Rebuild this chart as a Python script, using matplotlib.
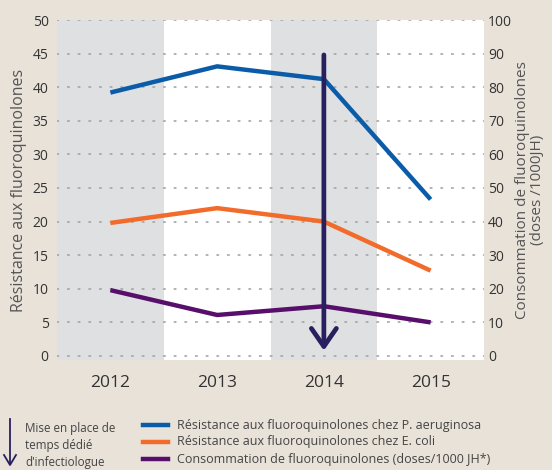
import numpy as np
import matplotlib.pyplot as plt
from matplotlib.lines import Line2D

plt.rcParams['font.family'] = ['Open Sans', 'DejaVu Sans']

years = [2012, 2013, 2014, 2015]
res_paeruginosa = [39.2, 43.1, 41.2, 23.3]
res_ecoli = [19.8, 22.0, 20.0, 12.7]
conso = [19.6, 12.2, 14.8, 10.0]   # doses / 1000 JH (right axis)

lbl_blue = "Résistance aux fluoroquinolones chez P. aeruginosa"
lbl_orange = "Résistance aux fluoroquinolones chez E. coli"
lbl_purple = "Consommation de fluoroquinolones (doses/1000 JH*)"
lbl_arrow = "Mise en place de\ntemps dédié\nd'infectiologue"

bg = '#e8e2d9'
c_blue = '#0b5ca8'
c_orange = '#f26b2b'
c_purple = '#570f6b'
c_arrow = '#28205e'
c_text = '#333333'

fig = plt.figure(figsize=(5.52, 4.70), dpi=100, facecolor=bg)
ax = fig.add_axes([57/552, 1-360/470, 427/552, 340/470])
ax.set_facecolor('white')
ax.set_xlim(2011.5, 2015.5)
ax.set_ylim(-0.6, 50)

for i, y in enumerate(years):
    if i % 2 == 0:
        ax.axvspan(y-0.5, y+0.5, color='#dfe0e2', lw=0, zorder=0)

for v in range(0, 51, 5):
    ax.plot([2011.5, 2015.5], [v, v], color='#a5a5a5', lw=1.2, ls=(0, (0.9, 5.5)),
            dash_capstyle='round', zorder=1)

ax.plot(years, res_paeruginosa, color=c_blue, lw=3.2, zorder=3, solid_capstyle='butt')
ax.plot(years, res_ecoli, color=c_orange, lw=3.2, zorder=3, solid_capstyle='butt')

ax2 = ax.twinx()
ax2.set_ylim(-1.2, 100)
ax2.plot(years, conso, color=c_purple, lw=3.2, zorder=3, solid_capstyle='butt')

# arrow at 2014
ax2.annotate('', xy=(2014, 1.6), xytext=(2014, 89.6),
             arrowprops=dict(arrowstyle='->,head_length=1.3,head_width=0.9',
                             color=c_arrow, lw=3.4, shrinkA=0, shrinkB=0),
             zorder=5)

for a in (ax, ax2):
    for s in a.spines.values():
        s.set_visible(False)

ax.set_yticks(range(0, 51, 5))
ax.set_xticks(years)
ax.set_xticklabels([str(y) for y in years])
ax.tick_params(axis='y', length=0, pad=6, labelsize=10, labelcolor=c_text)
ax.tick_params(axis='x', length=0, pad=11, labelsize=12.5, labelcolor=c_text)
ax2.set_yticks(range(0, 101, 10))
ax2.tick_params(axis='y', length=0, pad=3, labelsize=10, labelcolor=c_text)

ax.set_ylabel("Résistance aux fluoroquinolones", fontsize=11.5, color='#555555', labelpad=4)
ax2.set_ylabel("Consommation de fluoroquinolones\n(doses /1000JH)", fontsize=11,
               color='#555555', rotation=90, labelpad=2, linespacing=1.0)

# legend area
fig.add_artist(Line2D([10/552, 10/552], [1-419/470, 1-464/470], color=c_arrow, lw=1.3))
fig.add_artist(Line2D([4/552, 10/552, 16/552], [1-455/470, 1-465/470, 1-455/470], color=c_arrow, lw=1.3))
fig.text(25/552, 1-422/470, lbl_arrow, fontsize=8.4, color='#444444', va='top', linespacing=1.4)

for k, (c, t) in enumerate([(c_blue, lbl_blue), (c_orange, lbl_orange), (c_purple, lbl_purple)]):
    yy = 1 - (425 + k*17)/470
    fig.add_artist(Line2D([143/552, 168/552], [yy, yy], color=c, lw=3.2))
    fig.text(177/552, yy, t, fontsize=9.0, color='#444444', va='center')

fig.savefig('out.png', dpi=100, facecolor=bg)
